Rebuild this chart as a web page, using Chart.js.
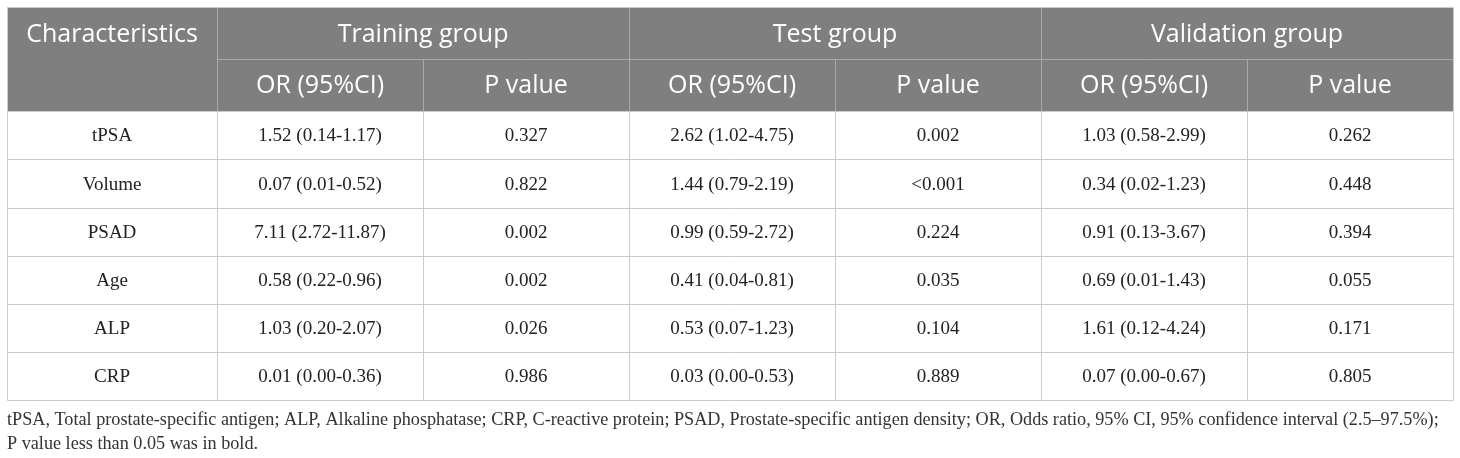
<!DOCTYPE html>
<html lang="en">

<head>
    <meta charset="UTF-8">
    <title>Odds ratios</title>
    <script src="https://cdn.jsdelivr.net/npm/chart.js"></script>
    <style>
        body { margin: 0; background: #ffffff; }
        #caixa { width: 1460px; height: 458px; }
    </style>
</head>

<body>
    <div id="caixa">
        <canvas id="tabela" width="1460" height="458"></canvas>
    </div>

<script>
  // dados da tabela
  var caracteristicas = ['tPSA', 'Volume', 'PSAD', 'Age', 'ALP', 'CRP']
  var grupos = ['Training group', 'Test group', 'Validation group']
  var subtitulos = ['OR (95%CI)', 'P value']

  var treinoOR = [1.52, 0.07, 7.11, 0.58, 1.03, 0.01]
  var treinoMin = [0.14, 0.01, 2.72, 0.22, 0.20, 0.00]
  var treinoMax = [1.17, 0.52, 11.87, 0.96, 2.07, 0.36]
  var treinoP = ['0.327', '0.822', '0.002', '0.002', '0.026', '0.986']

  var testeOR = [2.62, 1.44, 0.99, 0.41, 0.53, 0.03]
  var testeMin = [1.02, 0.79, 0.59, 0.04, 0.07, 0.00]
  var testeMax = [4.75, 2.19, 2.72, 0.81, 1.23, 0.53]
  var testeP = ['0.002', '<0.001', '0.224', '0.035', '0.104', '0.889']

  var validOR = [1.03, 0.34, 0.91, 0.69, 1.61, 0.07]
  var validMin = [0.58, 0.02, 0.13, 0.01, 0.12, 0.00]
  var validMax = [2.99, 1.23, 3.67, 1.43, 4.24, 0.67]
  var validP = ['0.262', '0.448', '0.394', '0.055', '0.171', '0.805']

  var legenda = [
    'tPSA, Total prostate-specific antigen; ALP, Alkaline phosphatase; CRP, C-reactive protein; PSAD, Prostate-specific antigen density; OR, Odds ratio, 95% CI, 95% confidence interval (2.5\u201397.5%);',
    'P value less than 0.05 was in bold.'
  ]

  function textoOR(or, min, max) {
    return or.toFixed(2) + ' (' + min.toFixed(2) + '-' + max.toFixed(2) + ')'
  }

  // monta as linhas do corpo
  var linhas = []
  for (var posicao = 0; posicao < caracteristicas.length; posicao += 1) {
    linhas.push([
      caracteristicas[posicao],
      textoOR(treinoOR[posicao], treinoMin[posicao], treinoMax[posicao]), treinoP[posicao],
      textoOR(testeOR[posicao], testeMin[posicao], testeMax[posicao]), testeP[posicao],
      textoOR(validOR[posicao], validMin[posicao], validMax[posicao]), validP[posicao]
    ])
  }

  // primeira coluna um pouco mais larga, cabeçalho um pouco mais alto
  var larguraPrimeira = 1.02
  var alturaCabecalho = 1.085
  var colunasDados = grupos.length * subtitulos.length
  var totalColunas = larguraPrimeira + colunasDados
  var totalLinhas = alturaCabecalho * 2 + linhas.length

  function bordaColuna(c) {
    return c === 0 ? 0 : larguraPrimeira + (c - 1)
  }
  function meioColuna(c) {
    return c === 0 ? larguraPrimeira / 2 : larguraPrimeira + (c - 1) + 0.5
  }

  var fonteCabecalho = '25px "Open Sans"'
  var fonteCorpo = '19px "Liberation Serif"'

  var desenhaTabela = {
    id: 'desenhaTabela',
    beforeDatasetsDraw: function (chart) {
      var ctx = chart.ctx
      var sx = chart.scales.x
      var sy = chart.scales.y
      var px = function (v) { return Math.round(sx.getPixelForValue(v)) + 0.5 }
      var py = function (v) { return Math.round(sy.getPixelForValue(v)) + 0.5 }
      var fimCab = alturaCabecalho * 2
      var nCol = colunasDados + 1

      ctx.save()

      // fundo do cabeçalho
      ctx.fillStyle = '#7f7f7f'
      ctx.fillRect(px(0), py(0), px(totalColunas) - px(0), py(fimCab) - py(0))

      // linhas do corpo
      ctx.strokeStyle = '#cbcbcb'
      ctx.lineWidth = 1
      ctx.beginPath()
      for (var r = 0; r <= linhas.length; r += 1) {
        ctx.moveTo(px(0), py(fimCab + r))
        ctx.lineTo(px(totalColunas), py(fimCab + r))
      }
      for (var c = 0; c <= nCol; c += 1) {
        ctx.moveTo(px(bordaColuna(c)), py(fimCab))
        ctx.lineTo(px(bordaColuna(c)), py(totalLinhas))
      }
      ctx.moveTo(px(0), py(0))
      ctx.lineTo(px(totalColunas), py(0))
      ctx.moveTo(px(0), py(0))
      ctx.lineTo(px(0), py(fimCab))
      ctx.moveTo(px(totalColunas), py(0))
      ctx.lineTo(px(totalColunas), py(fimCab))
      ctx.stroke()

      // linhas internas do cabeçalho
      ctx.strokeStyle = '#a9a9a9'
      ctx.beginPath()
      ctx.moveTo(px(larguraPrimeira), py(alturaCabecalho))
      ctx.lineTo(px(totalColunas), py(alturaCabecalho))
      for (var c2 = 1; c2 < nCol; c2 += 1) {
        var topo = (c2 % 2 === 1) ? 0 : alturaCabecalho
        ctx.moveTo(px(bordaColuna(c2)), py(topo))
        ctx.lineTo(px(bordaColuna(c2)), py(fimCab))
      }
      ctx.stroke()

      // textos do cabeçalho
      ctx.fillStyle = '#ffffff'
      ctx.font = fonteCabecalho
      ctx.textAlign = 'center'
      ctx.textBaseline = 'middle'
      var meioLinha1 = sy.getPixelForValue(alturaCabecalho / 2) + 2
      var meioLinha2 = sy.getPixelForValue(alturaCabecalho * 1.5) + 1
      ctx.fillText('Characteristics', sx.getPixelForValue(meioColuna(0)), meioLinha1)
      for (var g = 0; g < grupos.length; g += 1) {
        var inicio = 1 + g * subtitulos.length
        ctx.fillText(grupos[g], sx.getPixelForValue(bordaColuna(inicio) + subtitulos.length / 2), meioLinha1)
        for (var s = 0; s < subtitulos.length; s += 1) {
          ctx.fillText(subtitulos[s], sx.getPixelForValue(meioColuna(inicio + s)), meioLinha2)
        }
      }

      // textos do corpo
      ctx.fillStyle = '#222222'
      ctx.font = fonteCorpo
      for (var l = 0; l < linhas.length; l += 1) {
        var meio = sy.getPixelForValue(fimCab + l + 0.5) + 1
        for (var k = 0; k < linhas[l].length; k += 1) {
          ctx.fillText(linhas[l][k], sx.getPixelForValue(meioColuna(k)), meio)
        }
      }

      ctx.restore()
    }
  }

  new Chart(document.getElementById('tabela'), {
    type: 'scatter',
    data: { datasets: [] },
    options: {
      responsive: false,
      animation: false,
      devicePixelRatio: 1,
      layout: {
        padding: { left: 7, right: 7, top: 7, bottom: 0 }
      },
      scales: {
        x: { type: 'linear', min: 0, max: totalColunas, display: false },
        y: { type: 'linear', min: 0, max: totalLinhas, reverse: true, display: false }
      },
      plugins: {
        legend: { display: false },
        tooltip: { enabled: false },
        title: {
          display: true,
          position: 'bottom',
          align: 'start',
          text: legenda,
          color: '#333333',
          font: { family: 'Liberation Serif', size: 18.2, weight: 'normal', lineHeight: 1.32 },
          padding: { top: 8, bottom: 2 }
        }
      }
    },
    plugins: [desenhaTabela]
  });
</script>
</body>
</html>
